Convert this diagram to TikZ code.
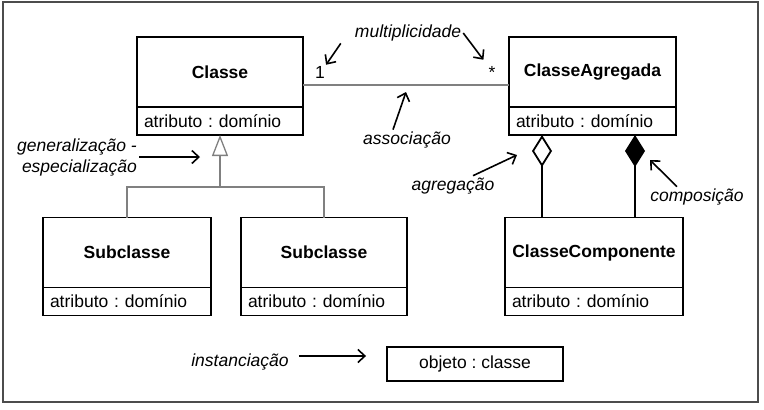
\documentclass[tikz,border=0pt]{standalone}
\usepackage{fontspec}
\setmainfont{Liberation Sans}
\usetikzlibrary{positioning,arrows.meta,calc}
\frenchspacing

\begin{document}
\begin{tikzpicture}[
    x=1pt, y=-1pt,
    font=\fontsize{17.5}{21}\selectfont,
    classname/.style={draw, line width=1.9pt, outer sep=0pt, minimum width=#1, minimum height=70pt, inner sep=0pt, font=\fontsize{17.5}{21}\selectfont\bfseries},
    attr/.style={draw, line width=1.9pt, outer sep=0pt, text width=#1, inner xsep=7pt, inner ysep=0pt, minimum height=28pt, align=left},
    note/.style={font=\fontsize{17.5}{21}\selectfont\itshape, inner sep=2pt},
    multlabel/.style={inner sep=1pt, anchor=base},
    arrow/.style={-{Straight Barb[length=7pt,width=13pt]}, line width=1.6pt},
    assoc/.style={gray, line width=1.3pt},
    genline/.style={gray, line width=1.3pt},
    part/.style={line width=1.8pt}
]
\useasboundingbox (0,0) rectangle (764,410);
\draw[gray!60!black, line width=1.6pt] (3,2) rectangle (758,402);

% classes
\node[classname=166pt] (classe) at (220,72) {Classe};
\node[attr=152pt, below=0pt of classe] (classeattr) {atributo : domínio};
\node[classname=167pt, right=206pt of classe] (agregada) {ClasseAgregada};
\node[attr=153pt, below=0pt of agregada] (agregadaattr) {atributo : domínio};
\node[classname=168pt] (sub1) at (127,252.5) {Subclasse};
\node[attr=154pt, below=0pt of sub1] (sub1attr) {atributo : domínio};
\node[classname=166pt] (sub2) at (324,252.5) {Subclasse};
\node[attr=152pt, below=0pt of sub2] (sub2attr) {atributo : domínio};
\node[classname=178pt] (comp) at (594,252.5) {ClasseComponente};
\node[attr=164pt, below=0pt of comp] (compattr) {atributo : domínio};
\node[draw, line width=1.9pt, minimum width=176pt, minimum height=34pt] (objeto) at (475,364) {objeto : classe};

% labels
\node[multlabel] (one) at (320,78) {1};
\node[multlabel] (many) at (492,78) {*};
\node[note] (mult) at (408,33) {multiplicidade};
\node[note] (assocnote) at (407,140) {associação};
\node[note, align=right, anchor=east] (gen) at (139,157) {generalização -\\especialização};
\node[note] (agrnote) at (453,186) {agregação};
\node[note] (compnote) at (697,197) {composição};
\node[note] (inst) at (240,362) {instanciação};

% association
\draw[assoc] ([yshift=-13pt]classe.east) -- ([yshift=-13pt]agregada.west);

% generalization
\coordinate (fork) at (220,187);
\draw[genline] (sub1.north) |- (fork) -| (sub2.north);
\draw[genline, -{Triangle[open, length=21pt, width=16pt]}] (fork) -- (classeattr.south);

% aggregation and composition
\coordinate (aggdia) at ([xshift=-52pt]comp.north |- agregadaattr.south);
\coordinate (compdia) at ([xshift=41pt]comp.north |- agregadaattr.south);
\draw[part, -{Diamond[open, length=32pt, width=20pt]}] ([xshift=-52pt]comp.north) -- (aggdia);
\draw[part, -{Diamond[length=32pt, width=20pt]}] ([xshift=41pt]comp.north) -- (compdia);

% notes
\draw[arrow] ([xshift=-12pt]mult.south west) -- (one.north east);
\draw[arrow] (mult.east) -- ([xshift=-4pt,yshift=5pt]many.north west);
\draw[arrow] ([xshift=-14pt]assocnote.north) -- ([yshift=-20pt]$(classe.east)!.5!(agregada.west)$);
\draw[arrow] (gen.east) -- ([xshift=-20pt]fork |- gen.east);
\draw[arrow] ([xshift=20pt]agrnote.north) -- ([xshift=-25pt,yshift=-20pt]aggdia);
\draw[arrow] ([xshift=-20pt]compnote.north) -- ([xshift=15pt,yshift=-25pt]compdia);
\draw[arrow] ([xshift=8pt,yshift=6pt]inst.east) -- ([xshift=-20pt,yshift=6pt]inst.east -| objeto.west);
\end{tikzpicture}
\end{document}
